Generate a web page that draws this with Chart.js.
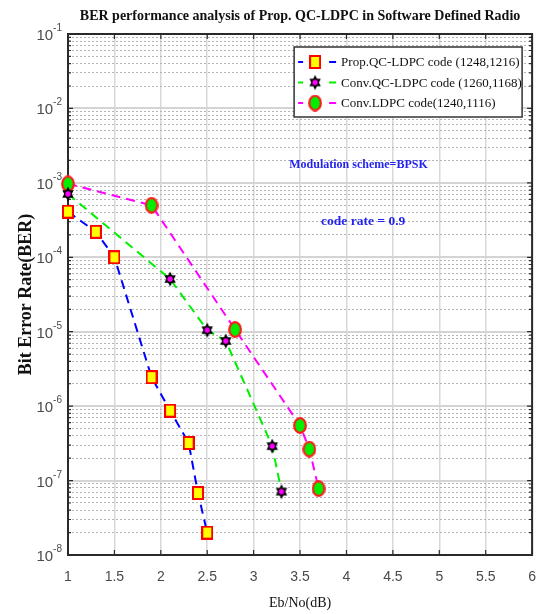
<!DOCTYPE html>
<html>
<head>
<meta charset="utf-8">
<script src="https://cdn.jsdelivr.net/npm/chart.js@4/dist/chart.umd.min.js"></script>
<style>
  html, body { margin: 0; padding: 0; background: #fff; }
</style>
</head>
<body>
<canvas id="ber-chart" width="550" height="614"></canvas>
<script>
// values
const propEbNo = [1, 1.3, 1.5, 1.9, 2.1, 2.3, 2.4, 2.5];
const propBer = [4.1e-4, 2.2e-4, 1.0e-4, 2.45e-6, 8.7e-7, 3.2e-7, 6.8e-8, 2.0e-8];
const convQcEbNo = [1, 2.1, 2.5, 2.7, 3.2, 3.3];
const convQcBer = [7.1e-4, 5.1e-5, 1.05e-5, 7.5e-6, 2.9e-7, 7.1e-8];
const convLdpcEbNo = [1, 1.9, 2.8, 3.5, 3.6, 3.7];
const convLdpcBer = [9.7e-4, 5.0e-4, 1.07e-5, 5.5e-7, 2.65e-7, 7.8e-8];

const seriesNames = ['Prop.QC-LDPC code (1248,1216)', 'Conv.QC-LDPC code (1260,1168)', 'Conv.LDPC code(1240,1116)'];
const xTickValues = [1, 1.5, 2, 2.5, 3, 3.5, 4, 4.5, 5, 5.5, 6];
const yDecades = [-8, -7, -6, -5, -4, -3, -2, -1];
const yTickExponents = ['-8', '-7', '-6', '-5', '-4', '-3', '-2', '-1'];
const minorSteps = [1, 2, 3, 4, 5, 6, 7, 8, 9];

const chartTitle = 'BER performance analysis of Prop. QC-LDPC in Software Defined Radio';
const notes = [
  { text: 'Modulation scheme=BPSK', x: 4.13, y: 1.74e-3, size: 12 },
  { text: 'code rate = 0.9', x: 4.18, y: 2.98e-4, size: 13.5 }
];

const SERIF = '"Liberation Serif", "Times New Roman", serif';
const SANS = '"Liberation Sans", Arial, sans-serif';

function isDecade(v) {
  const e = Math.log10(v);
  return Math.abs(e - Math.round(e)) < 1e-6;
}

function makeMarker(w, h, draw) {
  const c = document.createElement('canvas');
  c.width = w;
  c.height = h;
  draw(c.getContext('2d'), w, h);
  return c;
}

const squareMarker = makeMarker(12, 14, (g, w, h) => {
  g.fillStyle = '#ffff00';
  g.strokeStyle = '#ff0000';
  g.lineWidth = 2;
  g.fillRect(1, 1, w - 2, h - 2);
  g.strokeRect(1, 1, w - 2, h - 2);
});

const circleMarker = makeMarker(14, 17, (g, w, h) => {
  g.beginPath();
  g.ellipse(w / 2, h / 2, w / 2 - 1.2, h / 2 - 1.2, 0, 0, Math.PI * 2);
  g.fillStyle = '#00ee00';
  g.fill();
  g.lineWidth = 2.2;
  g.strokeStyle = '#ff1a1a';
  g.stroke();
});

const starMarker = makeMarker(14, 16, (g, w, h) => {
  const cx = w / 2, cy = h / 2;
  g.fillStyle = '#000';
  for (const rot of [-Math.PI / 2, Math.PI / 2]) {
    g.beginPath();
    for (let k = 0; k < 3; k++) {
      const a = rot + k * 2 * Math.PI / 3;
      g.lineTo(cx + 6.6 * Math.cos(a), cy + 7.6 * Math.sin(a));
    }
    g.closePath();
    g.fill();
  }
  g.beginPath();
  g.arc(cx, cy, 2.7, 0, Math.PI * 2);
  g.fillStyle = '#ff00ff';
  g.fill();
});

function toPoints(xs, ys) {
  return xs.map((x, i) => ({ x: x, y: ys[i] }));
}

function series(label, xs, ys, color, marker) {
  return {
    label: label,
    data: toPoints(xs, ys),
    borderColor: color,
    backgroundColor: color,
    borderWidth: 2,
    borderDash: [9, 6],
    pointStyle: marker,
    pointRadius: 7,
    tension: 0,
    clip: false
  };
}

// box round the plot with MATLAB style inward ticks
const frame = {
  id: 'frame',
  beforeDatasetsDraw(chart) {
    const { ctx, chartArea: a, scales: { x, y } } = chart;
    ctx.save();
    ctx.strokeStyle = '#2a2a2a';
    ctx.lineWidth = 1.2;
    ctx.beginPath();
    x.ticks.forEach(t => {
      const px = x.getPixelForValue(t.value);
      ctx.moveTo(px, a.bottom); ctx.lineTo(px, a.bottom - 5);
      ctx.moveTo(px, a.top); ctx.lineTo(px, a.top + 5);
    });
    y.ticks.forEach(t => {
      const py = y.getPixelForValue(t.value);
      const len = isDecade(t.value) ? 5 : 3;
      ctx.moveTo(a.left, py); ctx.lineTo(a.left + len, py);
      ctx.moveTo(a.right, py); ctx.lineTo(a.right - len, py);
    });
    ctx.stroke();
    ctx.lineWidth = 2;
    ctx.strokeRect(a.left, a.top, a.right - a.left, a.bottom - a.top);
    ctx.restore();
  }
};

const extras = {
  id: 'extras',
  afterDraw(chart) {
    const { ctx, chartArea: a, scales: { x, y } } = chart;
    ctx.save();

    // y tick labels as 10 with a raised exponent
    ctx.fillStyle = '#4a4a4a';
    ctx.textBaseline = 'alphabetic';
    yDecades.forEach((d, i) => {
      const py = y.getPixelForValue(Math.pow(10, d));
      const exp = yTickExponents[i];
      ctx.font = '10px ' + SANS;
      const ew = ctx.measureText(exp).width;
      ctx.textAlign = 'right';
      ctx.fillText(exp, a.left - 6, py - 3);
      ctx.font = '15px ' + SANS;
      ctx.fillText('10', a.left - 6 - ew, py + 6);
    });

    // title, centred over the plot area
    ctx.fillStyle = '#111';
    ctx.font = 'bold 14px ' + SERIF;
    ctx.textAlign = 'center';
    ctx.textBaseline = 'middle';
    ctx.fillText(chartTitle, (a.left + a.right) / 2, 16);

    // text notes in data coordinates
    ctx.fillStyle = '#2424ee';
    notes.forEach(n => {
      ctx.font = 'bold ' + n.size + 'px ' + SERIF;
      ctx.fillText(n.text, x.getPixelForValue(n.x), y.getPixelForValue(n.y));
    });

    // legend box
    const left = a.right - 238, top = a.top + 13, w = 228, h = 70;
    ctx.fillStyle = '#fff';
    ctx.fillRect(left, top, w, h);
    ctx.strokeStyle = '#333';
    ctx.lineWidth = 1.5;
    ctx.strokeRect(left, top, w, h);
    ctx.textAlign = 'left';
    ctx.font = '13px ' + SERIF;
    chart.data.datasets.forEach((ds, i) => {
      const ry = top + 15 + i * 20.5;
      ctx.strokeStyle = ds.borderColor;
      ctx.lineWidth = 2;
      ctx.beginPath();
      ctx.moveTo(left + 4, ry); ctx.lineTo(left + 9, ry);
      ctx.moveTo(left + 35, ry); ctx.lineTo(left + 42, ry);
      ctx.stroke();
      const m = ds.pointStyle;
      ctx.drawImage(m, left + 21 - m.width / 2, ry - m.height / 2);
      ctx.fillStyle = '#111';
      ctx.fillText(ds.label, left + 47, ry + 1);
    });
    ctx.restore();
  }
};

new Chart(document.getElementById('ber-chart'), {
  type: 'line',
  data: {
    datasets: [
      series(seriesNames[0], propEbNo, propBer, '#0000ff', squareMarker),
      series(seriesNames[1], convQcEbNo, convQcBer, '#00ee00', starMarker),
      series(seriesNames[2], convLdpcEbNo, convLdpcBer, '#ff00ff', circleMarker)
    ]
  },
  options: {
    responsive: false,
    animation: false,
    events: [],
    layout: { padding: { top: 34, right: 9, left: 0, bottom: 0 } },
    plugins: {
      legend: { display: false },
      tooltip: { enabled: false },
      title: { display: false }
    },
    scales: {
      x: {
        type: 'linear',
        min: 1,
        max: 6,
        afterBuildTicks: s => { s.ticks = xTickValues.map(v => ({ value: v })); },
        afterFit: s => { s.height = 59; },
        grid: { color: '#d8d8d8', lineWidth: 1.5, drawTicks: false },
        border: { display: false },
        ticks: {
          autoSkip: false,
          maxRotation: 0,
          padding: 14,
          color: '#4a4a4a',
          font: { family: SANS, size: 14 },
          callback: v => String(v)
        },
        title: {
          display: true,
          text: 'Eb/No(dB)',
          color: '#111',
          font: { family: SERIF, size: 14 },
          padding: { top: 0, bottom: 2 }
        }
      },
      y: {
        type: 'logarithmic',
        min: 1e-8,
        max: 1e-1,
        afterBuildTicks: s => {
          const t = [];
          yDecades.slice(0, -1).forEach(d => minorSteps.forEach(m => t.push({ value: m * Math.pow(10, d) })));
          t.push({ value: 1e-1 });
          s.ticks = t;
        },
        afterFit: s => { s.width = 68; },
        grid: {
          drawTicks: false,
          color: c => (c.tick && isDecade(c.tick.value)) ? '#d4d4d4' : '#b4b4b4',
          lineWidth: c => (c.tick && isDecade(c.tick.value)) ? 2 : 1
        },
        border: {
          display: false,
          dash: c => (c.tick && !isDecade(c.tick.value)) ? [2, 2] : []
        },
        ticks: {
          autoSkip: false,
          padding: 6,
          callback: () => ''
        },
        title: {
          display: true,
          text: 'Bit Error Rate(BER)',
          color: '#111',
          font: { family: SERIF, size: 18, weight: 'bold' },
          padding: { top: 16, bottom: 0 }
        }
      }
    }
  },
  plugins: [frame, extras]
});
</script>
</body>
</html>
